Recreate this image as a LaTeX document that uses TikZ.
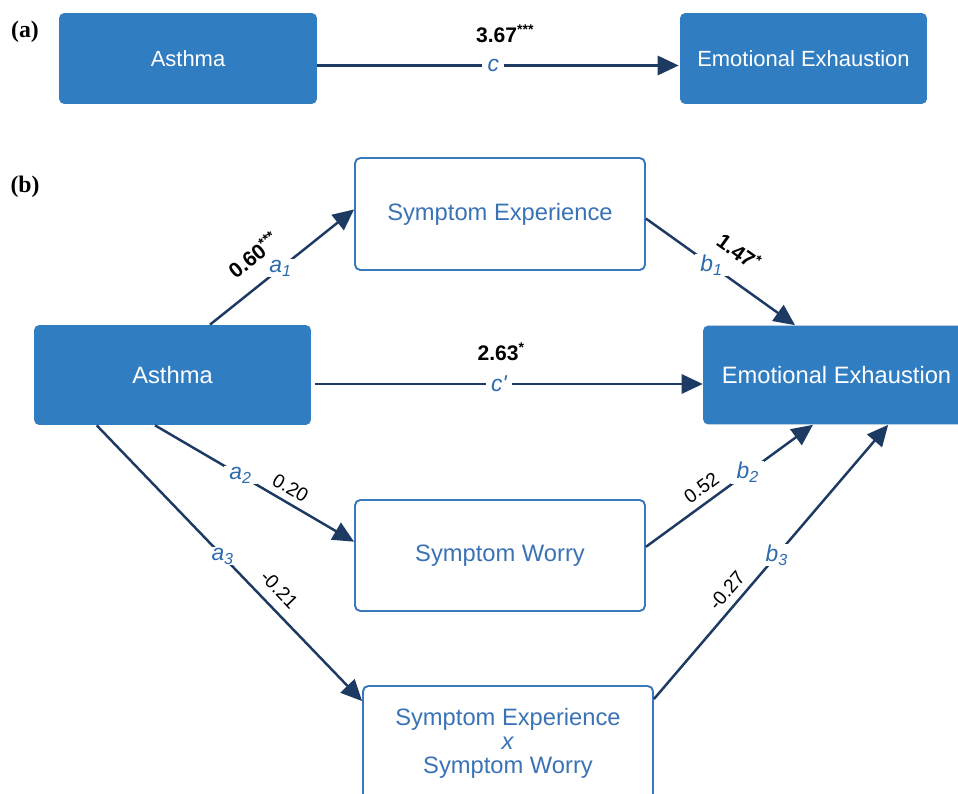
\documentclass[tikz,border=0pt]{standalone}
\usepackage{fontspec}
\setmainfont{Liberation Sans}
\newfontfamily\labelserif{Liberation Serif}
\usetikzlibrary{arrows.meta,calc}
\definecolor{boxblue}{HTML}{307DC2}
\definecolor{lineblue}{HTML}{3B77BC}
\definecolor{txtblue}{HTML}{3A72B6}
\definecolor{navy}{HTML}{1D3A63}
\definecolor{lblblue}{HTML}{2E6AAE}
\begin{document}
\begin{tikzpicture}[x=0.02cm,y=-0.02cm,
  solid box/.style={rectangle, rounded corners=3pt, fill=boxblue, text=white, inner sep=0pt},
  open box/.style={rectangle, rounded corners=3pt, draw=lineblue, line width=1.1pt, fill=white, text=txtblue, inner sep=0pt, align=center},
  path arrow/.style={draw=navy, line width=1.4pt, -{Triangle[length=12pt,width=11pt]}},
  coef/.style={font=\fontsize{12}{14}\selectfont\bfseries, text=black, inner sep=0pt},
  coefn/.style={font=\fontsize{11}{13}\selectfont, text=black, inner sep=0pt},
  pathlbl/.style={font=\fontsize{13}{15}\selectfont\itshape, text=lblblue, fill=white, inner xsep=3pt, inner ysep=0.5pt},
  panel/.style={font=\fontsize{13.5}{15}\selectfont\labelserif\bfseries, inner sep=0pt},
  fa/.style={font=\fontsize{12.5}{15}\selectfont},
  fb/.style={font=\fontsize{13.5}{13.6}\selectfont}
]
\clip (0,0) rectangle (958,794);
\fill[white] (0,0) rectangle (958,794);

% panel labels
\node[panel] (pa) at (25,32) {(a)};
\node[panel] (pb) at (25,187) {(b)};

% (a)
\node[solid box, fa, minimum width=5.16cm, minimum height=1.82cm] (asa) at (188,58.5) {Asthma};
\node[solid box, fa, minimum width=4.94cm, minimum height=1.82cm] (eea) at (803.5,58.5) {Emotional Exhaustion};
\draw[path arrow] ($(asa.east)+(0,7)$) --
  node[pathlbl, pos=0.487] {c}
  node[coef, pos=0.52, above=12.5pt] {3.67\textsuperscript{***}}
  ($(eea.west)+(-1,7)$);

% (b)
\node[solid box, fb, minimum width=5.54cm, minimum height=2cm] (asb) at (172.5,375) {Asthma};
\node[solid box, fb, minimum width=5.34cm, minimum height=1.98cm] (eeb) at (836.5,375) {Emotional Exhaustion};
\node[open box, fb, minimum width=5.8cm, minimum height=2.24cm] (se) at (500,214) {Symptom Experience};
\node[open box, fb, minimum width=5.8cm, minimum height=2.22cm] (sw) at (500,555.5) {Symptom Worry};
\node[open box, fb, minimum width=5.8cm, minimum height=2.28cm] (sxs) at (508,743) {Symptom Experience\\\textit{x}\\Symptom Worry};

% a1
\draw[path arrow] ($(asb.north west)!0.635!(asb.north east)$) --
  node[pathlbl, pos=0.49] {a\textsubscript{\textit{1}}}
  node[coef, pos=0.42, sloped, above=10pt] {0.60\textsuperscript{***}}
  ($(se.north west)!0.46!(se.south west)$);
% b1
\draw[path arrow] ($(se.north east)!0.54!(se.south east)$) --
  node[pathlbl, pos=0.44] {b\textsubscript{\textit{1}}}
  node[coef, pos=0.52, sloped, above=10pt] {1.47\textsuperscript{*}}
  ($(eeb.north west)!0.345!(eeb.north east)$);
% c'
\draw[path arrow] ($(asb.east)+(4,9)$) --
  node[pathlbl, pos=0.474] {c\textquotesingle}
  node[coef, pos=0.48, above=12.5pt] {2.63\textsuperscript{*}}
  ($(eeb.west)+(0,9)$);
% a2
\draw[path arrow] ($(asb.south west)!0.437!(asb.south east)$) --
  node[pathlbl, pos=0.43] {a\textsubscript{\textit{2}}}
  node[coefn, pos=0.645, sloped, above=3.5pt] {0.20}
  ($(sw.north west)!0.378!(sw.south west)$);
% a3
\draw[path arrow] ($(asb.south west)!0.227!(asb.south east)$) --
  node[pathlbl, pos=0.475] {a\textsubscript{\textit{3}}}
  node[coefn, pos=0.64, sloped, above=5.5pt] {-0.21}
  ($(sxs.north west)+(0,16)$);
% b2
\draw[path arrow] ($(sw.north east)!0.423!(sw.south east)$) --
  node[pathlbl, pos=0.61] {b\textsubscript{\textit{2}}}
  node[coefn, pos=0.385, sloped, above=4pt] {0.52}
  ($(eeb.south west)!0.412!(eeb.south east)$);
% b3
\draw[path arrow] ($(sxs.north east)+(0,14)$) --
  node[pathlbl, pos=0.525] {b\textsubscript{\textit{3}}}
  node[coefn, pos=0.36, sloped, above=4pt] {-0.27}
  ($(eeb.south west)!0.693!(eeb.south east)$);
\end{tikzpicture}
\end{document}
